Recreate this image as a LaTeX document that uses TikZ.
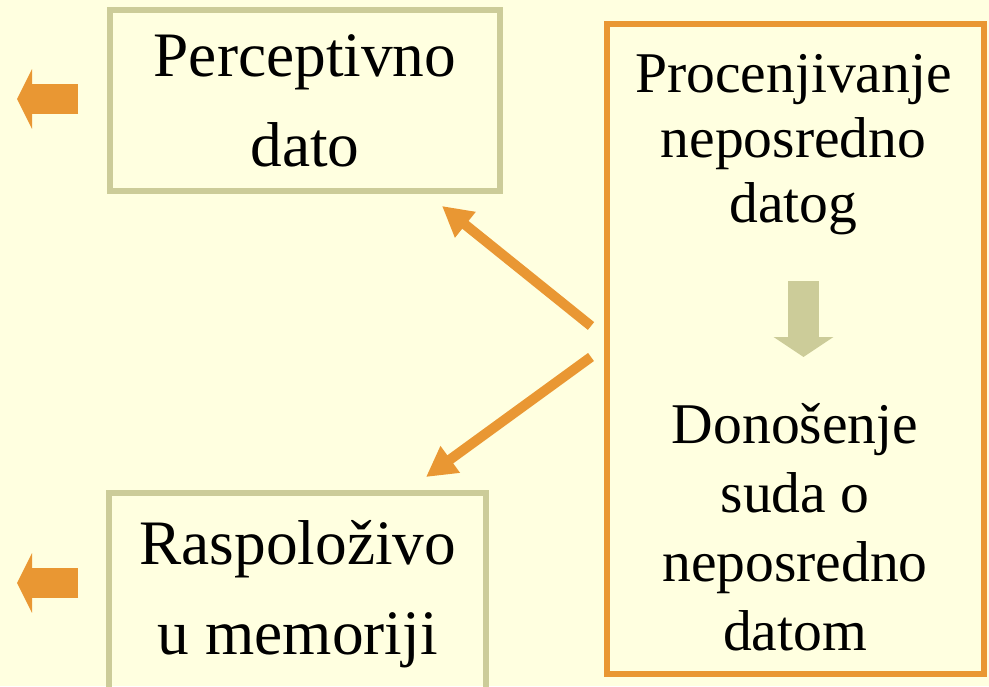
\documentclass[tikz,border=0pt]{standalone}
\usepackage{fontspec}
\setmainfont{Liberation Serif}
\usetikzlibrary{arrows.meta}
\usetikzlibrary{positioning}

\definecolor{bgyellow}{RGB}{255,255,224}
\definecolor{arrorange}{RGB}{233,151,51}
\definecolor{boxkhaki}{RGB}{204,204,153}

\tikzset{
  sidebox/.style={rectangle,draw=boxkhaki,line width=4.5pt,align=center,inner sep=0pt,
    font=\fontsize{47.5pt}{67.5pt}\selectfont},
  judgebox/.style={rectangle,draw=arrorange,line width=4.5pt,inner sep=0pt},
  judgetext/.style={align=center,inner sep=0pt},
  sidearrow/.style={draw=arrorange,line width=22.5pt,-{Triangle[length=11.25pt,width=44.25pt]}},
  linkarrow/.style={draw=arrorange,line width=7.5pt,-{Triangle[length=22.5pt,width=23.25pt]}},
  steparrow/.style={draw=boxkhaki,line width=23.25pt,-{Triangle[length=15pt,width=44.25pt]}}
}

\begin{document}
\begin{tikzpicture}[x=0.75pt,y=-0.75pt]
\path[use as bounding box,clip] (0,0) rectangle (989,686);
\fill[bgyellow] (0,0) rectangle (989,686);

% left column
\node at (305,100.5)[sidebox,minimum width=292.5pt,minimum height=135.75pt](perc){Perceptivno\\dato};
\node at (297.75,594.5)[sidebox,minimum width=282.75pt,minimum height=152.25pt](memo){Raspoloživo\\u memoriji};

% right column
\node at (795.5,349)[judgebox,minimum width=282.75pt,minimum height=487.5pt](judge){};
\node at (793.5,144.6)[judgetext,font=\fontsize{43.2pt}{48.75pt}\selectfont](assess){Procenjivanje\\neposredno\\datog};
\node at (795,526.8)[judgetext,font=\fontsize{43.2pt}{51.75pt}\selectfont](decide){Donošenje\\suda o\\neposredno\\datom};

% arrows
\coordinate (s1) at (78,99);
\coordinate (t1) at (17,99);
\coordinate (s2) at (78,583);
\coordinate (t2) at (17,583);
\draw[sidearrow] (s1) -- (t1);
\draw[sidearrow] (s2) -- (t2);

\coordinate (u1) at (591,326);
\coordinate (v1) at (442,206);
\coordinate (u2) at (591,357);
\coordinate (v2) at (426,477);
\draw[linkarrow] (u1) -- (v1);
\draw[linkarrow] (u2) -- (v2);

\coordinate (d1) at (803.5,281);
\coordinate (d2) at (803.5,357);
\draw[steparrow] (d1) -- (d2);
\end{tikzpicture}
\end{document}
